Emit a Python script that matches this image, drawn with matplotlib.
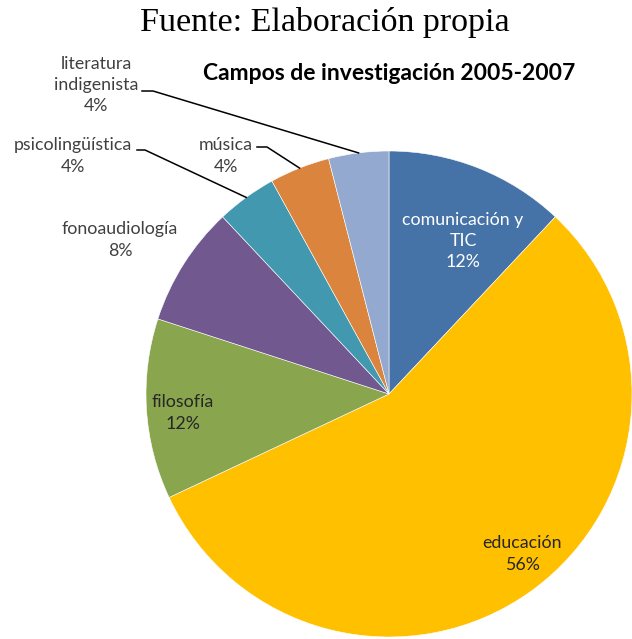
import numpy as np
import matplotlib
matplotlib.use("Agg")
import matplotlib.pyplot as plt

# data
labels = ["comunicación y\nTIC", "educación", "filosofía", "fonoaudiología",
          "psicolingüística", "música", "literatura\nindigenista"]
values = [12, 56, 12, 8, 4, 4, 4]
colors = ["#4572A7", "#FFC000", "#89A54E", "#71588F", "#4198AF", "#DB843D", "#93A9CF"]

W, H = 632, 639
CX, CY, R = 389, 394, 243   # pie centre / radius in pixels


def px(x, y):
    # pixel position -> data coords of the pie axes
    return (x - CX) / R, (CY - y) / R


fig = plt.figure(figsize=(W / 100, H / 100), dpi=100)
ax = fig.add_axes([(CX - R) / W, (H - CY - R) / H, 2 * R / W, 2 * R / H])

wedges, _ = ax.pie(values, colors=colors, startangle=90, counterclock=False,
                   radius=1, wedgeprops=dict(edgecolor="white", linewidth=0.4))
ax.set_xlim(-1, 1)
ax.set_ylim(-1, 1)
ax.set_aspect("equal")
ax.axis("off")

font = "Lato"
fs = 12.8
inside = {0: (463, 241, "white"), 1: (522, 554, "#262626"), 2: (183, 413, "#262626")}
outside = {3: (120, 240), 4: (73, 156), 5: (226, 156), 6: (96, 85)}
# leader lines: (start of horizontal tick, elbow)
leaders = {4: ((137, 150), (145, 150)), 5: ((257, 147), (267, 147)),
           6: ((142, 91), (153, 91))}

for i, (lab, v) in enumerate(zip(labels, values)):
    txt = f"{lab}\n{v}%"
    if i in inside:
        x, y, c = inside[i]
    else:
        x, y = outside[i]
        c = "#404040"
    ax.text(*px(x, y), txt, ha="center", va="center", color=c,
            fontsize=fs, family=font, linespacing=1.42, clip_on=False)
    if i in leaders:
        w = wedges[i]
        mid = np.deg2rad((w.theta1 + w.theta2) / 2)
        (x0, y0), (x1, y1) = leaders[i]
        p0, p1 = px(x0, y0), px(x1, y1)
        ax.plot([p0[0], p1[0], np.cos(mid)], [p0[1], p1[1], np.sin(mid)],
                color="black", lw=1.1, clip_on=False)

fig.text(325 / W, 1 - 22 / H, "Fuente: Elaboración propia", ha="center", va="center",
         fontsize=24.5, family="Liberation Serif")
fig.text(389 / W, 1 - 73 / H, "Campos de investigación 2005-2007", ha="center",
         va="center", fontsize=16.5, family=font, fontweight="bold")

fig.savefig("out.png", dpi=100)
